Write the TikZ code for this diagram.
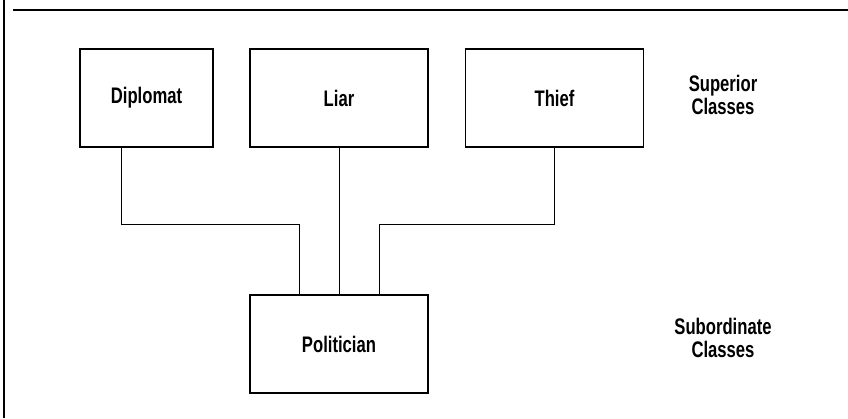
\documentclass[tikz,border=0pt]{standalone}
\usepackage{fontspec}
\setmainfont{Liberation Sans}[FakeStretch=0.74]
\tikzset{
  classbox/.style={draw,line width=1.4pt,minimum width=178pt,minimum height=98pt,
    font=\fontsize{22.5}{23}\selectfont\bfseries},
  level/.style={align=center,font=\fontsize{22.5}{23}\selectfont\bfseries},
  link/.style={line width=0.6pt},
}

\begin{document}
\begin{tikzpicture}[x=1pt,y=1pt]
  
  % page size
  \useasboundingbox (0,0) rectangle (848,-418);
  
  % frame
  \draw[line width=1.5pt] (4,0) -- (4,-418);
  \draw[line width=1.5pt] (13,-10) -- (848,-10);
  
  % boxes
  \node[classbox,minimum width=133pt] (diplomat) at (146.5,-98) {Diplomat};
  \node[classbox] (liar) at (339,-98) {Liar};
  \node[classbox] (thief) at (554.5,-98) {Thief};
  \node[classbox] (politician) at (339,-344) {Politician};
  
  % levels
  \node[level] (superior) at (723,-95) {Superior\\Classes};
  \node[level] (subordinate) at (723,-338) {Subordinate\\Classes};
  
  % connectors
  \coordinate (lbend) at (299,-224);
  \coordinate (rbend) at (379,-224);
  \draw[link] ([xshift=-25.5pt]diplomat.south) |- (lbend) -- (lbend |- politician.north);
  \draw[link] (liar.south) -- (politician.north);
  \draw[link] (thief.south) |- (rbend) -- (rbend |- politician.north);
  
\end{tikzpicture}
\end{document}
